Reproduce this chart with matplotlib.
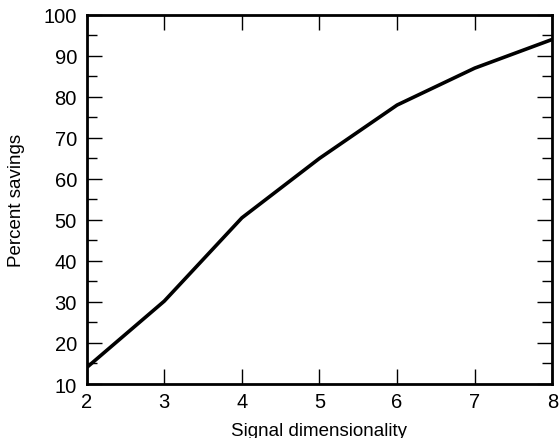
import matplotlib
matplotlib.use('Agg')
import matplotlib.pyplot as plt
from matplotlib.ticker import MultipleLocator

dimensionality = [2, 3, 4, 5, 6, 7, 8]
percent_savings = [14, 30.2, 50.5, 65, 78, 87, 94]

plt.rcParams['font.family'] = ['Liberation Sans', 'DejaVu Sans']

fig = plt.figure(figsize=(5.59, 4.39), dpi=100)
ax = fig.add_axes([0.155, 0.123, 0.833, 0.841])
ax.plot(dimensionality, percent_savings, color='black', linewidth=2.6, solid_capstyle='butt')

ax.set_xlim(2, 8)
ax.set_ylim(10, 100)
ax.xaxis.set_major_locator(MultipleLocator(1))
ax.yaxis.set_major_locator(MultipleLocator(10))
ax.yaxis.set_minor_locator(MultipleLocator(5))

for s in ax.spines.values():
    s.set_linewidth(2)
ax.tick_params(which='major', direction='in', length=11, width=1, top=True, right=True,
               labelsize=14.5)
ax.tick_params(axis='y', which='major', pad=7)
ax.tick_params(axis='x', which='major', pad=6)
ax.tick_params(which='minor', direction='in', length=7, width=1, top=True, right=True)
ax.tick_params(axis='x', which='minor', length=0)

ax.set_xlabel('Signal dimensionality', fontsize=13.5, labelpad=8)
ax.set_ylabel('Percent savings', fontsize=13.5, labelpad=13)

fig.savefig('out.png', dpi=100)
